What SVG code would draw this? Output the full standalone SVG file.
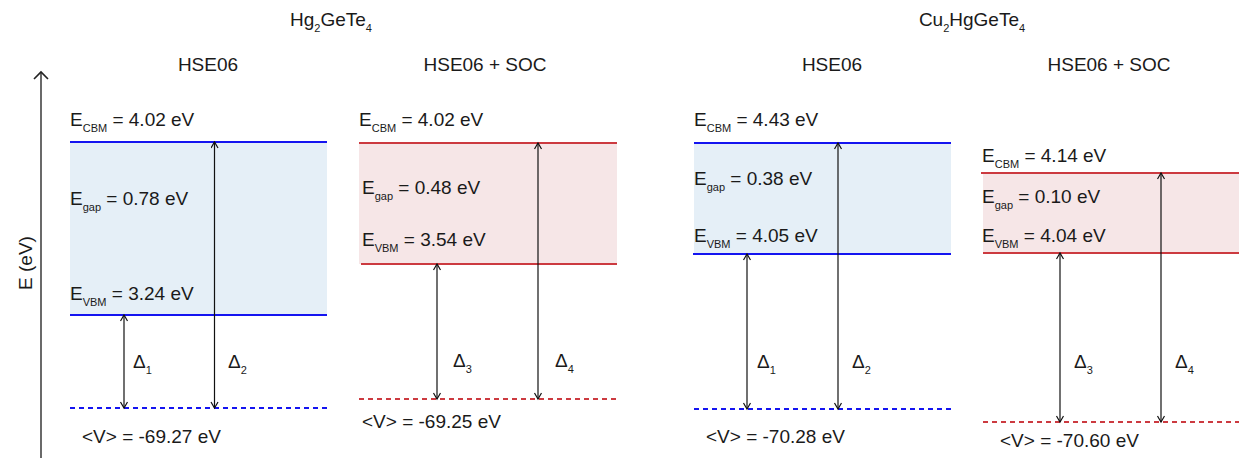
<svg xmlns="http://www.w3.org/2000/svg" width="1239" height="458" viewBox="0 0 1239 458">
<style>
text{font-family:"Liberation Sans",Arial,sans-serif;font-size:19px;fill:#1a1a1a}
.sub{font-size:11px}
.bfill{fill:#e5eff7}
.rfill{fill:#f6e6e7}
.bline{stroke:#1414f0;stroke-width:2;fill:none}
.rline{stroke:#cc3a40;stroke-width:2;fill:none}
.bdash{stroke:#1414f0;stroke-width:2;stroke-dasharray:5 4;fill:none}
.rdash{stroke:#cc3a40;stroke-width:2;stroke-dasharray:5 4;fill:none}
.arr{stroke:#111;stroke-width:1.2;fill:none;marker-start:url(#ah);marker-end:url(#ah)}
</style>
<defs>
<marker id="ah" markerUnits="userSpaceOnUse" markerWidth="10" markerHeight="10" refX="7" refY="4" orient="auto-start-reverse">
<path d="M1,0.5 L7,4 L1,7.5" fill="none" stroke="#111" stroke-width="1.2"/>
</marker>
</defs>

<g id="axis">
<line x1="41" y1="458" x2="41" y2="72" stroke="#444" stroke-width="1.6"/>
<path d="M34,79 L41,72 L48,79" fill="none" stroke="#222" stroke-width="1.6"/>
<text transform="translate(32,263) rotate(-90)" text-anchor="middle">E (eV)</text>
</g>

<g id="titles">
<text x="331" y="26" text-anchor="middle">Hg<tspan class="sub" dy="6">2</tspan><tspan dy="-6">GeTe</tspan><tspan class="sub" dy="6">4</tspan></text>
<text x="972" y="26" text-anchor="middle">Cu<tspan class="sub" dy="6">2</tspan><tspan dy="-6">HgGeTe</tspan><tspan class="sub" dy="6">4</tspan></text>
<text x="208" y="71" text-anchor="middle">HSE06</text>
<text x="485" y="71" text-anchor="middle">HSE06 + SOC</text>
<text x="832" y="71" text-anchor="middle">HSE06</text>
<text x="1109" y="71" text-anchor="middle">HSE06 + SOC</text>
</g>

<g id="panel1">
<rect class="bfill" x="70" y="142" width="257" height="173"/>
<line class="bline" x1="70" y1="142" x2="327" y2="142"/>
<line class="bline" x1="70" y1="315" x2="327" y2="315"/>
<line class="bdash" x1="70" y1="408" x2="327" y2="408"/>
<text x="70" y="126">E<tspan class="sub" dy="6">CBM</tspan><tspan dy="-6"> = 4.02 eV</tspan></text>
<text x="70" y="205">E<tspan class="sub" dy="6">gap</tspan><tspan dy="-6"> = 0.78 eV</tspan></text>
<text x="70" y="300">E<tspan class="sub" dy="6">VBM</tspan><tspan dy="-6"> = 3.24 eV</tspan></text>
<text x="133" y="368">Δ<tspan class="sub" dy="6">1</tspan></text>
<text x="228" y="368">Δ<tspan class="sub" dy="6">2</tspan></text>
<text x="82" y="443">&lt;V&gt; = -69.27 eV</text>
</g>

<g id="panel2">
<rect class="rfill" x="359" y="143" width="258" height="121"/>
<line class="rline" x1="359" y1="143" x2="617" y2="143"/>
<line class="rline" x1="361" y1="264" x2="617" y2="264"/>
<line class="rdash" x1="359" y1="399" x2="617" y2="399"/>
<text x="359" y="126">E<tspan class="sub" dy="6">CBM</tspan><tspan dy="-6"> = 4.02 eV</tspan></text>
<text x="362" y="194">E<tspan class="sub" dy="6">gap</tspan><tspan dy="-6"> = 0.48 eV</tspan></text>
<text x="362" y="246">E<tspan class="sub" dy="6">VBM</tspan><tspan dy="-6"> = 3.54 eV</tspan></text>
<text x="453" y="367">Δ<tspan class="sub" dy="6">3</tspan></text>
<text x="555" y="367">Δ<tspan class="sub" dy="6">4</tspan></text>
<text x="362" y="428">&lt;V&gt; = -69.25 eV</text>
</g>

<g id="panel3">
<rect class="bfill" x="694" y="143" width="257" height="111"/>
<line class="bline" x1="694" y1="143" x2="951" y2="143"/>
<line class="bline" x1="693" y1="254" x2="951" y2="254"/>
<line class="bdash" x1="694" y1="409" x2="951" y2="409"/>
<text x="694" y="126">E<tspan class="sub" dy="6">CBM</tspan><tspan dy="-6"> = 4.43 eV</tspan></text>
<text x="694" y="185">E<tspan class="sub" dy="6">gap</tspan><tspan dy="-6"> = 0.38 eV</tspan></text>
<text x="694" y="242">E<tspan class="sub" dy="6">VBM</tspan><tspan dy="-6"> = 4.05 eV</tspan></text>
<text x="757" y="368">Δ<tspan class="sub" dy="6">1</tspan></text>
<text x="852" y="368">Δ<tspan class="sub" dy="6">2</tspan></text>
<text x="706" y="443">&lt;V&gt; = -70.28 eV</text>
</g>

<g id="panel4">
<rect class="rfill" x="983" y="173" width="256" height="80"/>
<line class="rline" x1="981" y1="173" x2="1239" y2="173"/>
<line class="rline" x1="983" y1="253" x2="1239" y2="253"/>
<line class="rdash" x1="983" y1="422" x2="1239" y2="422"/>
<text x="982" y="162">E<tspan class="sub" dy="6">CBM</tspan><tspan dy="-6"> = 4.14 eV</tspan></text>
<text x="982" y="203">E<tspan class="sub" dy="6">gap</tspan><tspan dy="-6"> = 0.10  eV</tspan></text>
<text x="982" y="242">E<tspan class="sub" dy="6">VBM</tspan><tspan dy="-6"> = 4.04 eV</tspan></text>
<text x="1074" y="368">Δ<tspan class="sub" dy="6">3</tspan></text>
<text x="1175" y="368">Δ<tspan class="sub" dy="6">4</tspan></text>
<text x="1000" y="447">&lt;V&gt; = -70.60 eV</text>
</g>

<g id="connectors">
<line class="arr" x1="124" y1="408" x2="124" y2="315"/>
<line class="arr" x1="214.5" y1="408" x2="214.5" y2="142"/>
<line class="arr" x1="437" y1="399" x2="437" y2="264"/>
<line class="arr" x1="538" y1="399" x2="538" y2="143"/>
<line class="arr" x1="747" y1="409" x2="747" y2="254"/>
<line class="arr" x1="838" y1="409" x2="838" y2="143"/>
<line class="arr" x1="1060" y1="422" x2="1060" y2="253"/>
<line class="arr" x1="1161" y1="422" x2="1161" y2="173"/>
</g>
</svg>
